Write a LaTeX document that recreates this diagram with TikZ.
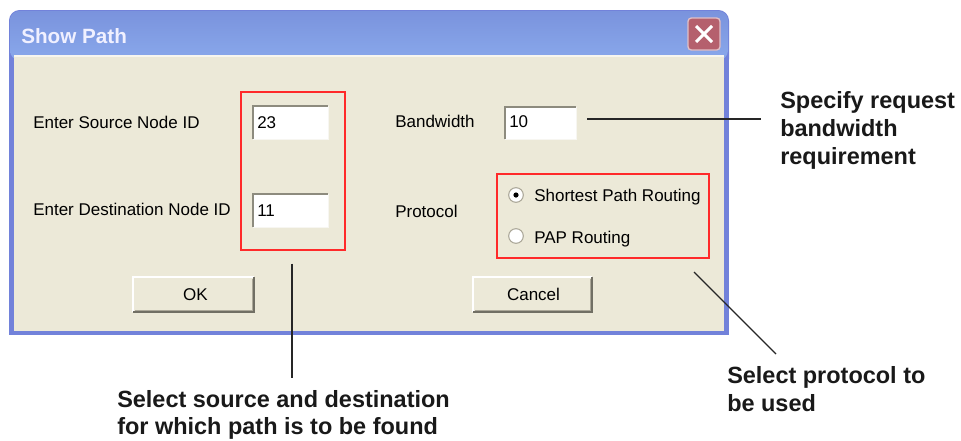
\documentclass[tikz,border=0pt]{standalone}
\usepackage{fontspec}
\setmainfont{Liberation Sans}
\usetikzlibrary{calc,fit}

\definecolor{xpface}{HTML}{ECE9D8}
\definecolor{xpborder}{HTML}{7282DA}
\definecolor{xptitletop}{HTML}{7A93DD}
\definecolor{xptitlebot}{HTML}{89A8EB}
\definecolor{xpclose}{HTML}{B5606D}
\definecolor{xpshadow}{HTML}{8D8B7E}
\definecolor{xpdark}{HTML}{716F64}
\definecolor{xpmid}{HTML}{ACA899}
\definecolor{xplight}{HTML}{F7F6F1}
\definecolor{calloutred}{HTML}{FF2A2A}

% sunken edit-field edges
\newcommand\fieldedges[1]{%
  \draw[xpshadow, line width=1.5pt] (#1.south west) -- (#1.north west) -- (#1.north east);
  \draw[xplight, line width=1pt] (#1.north east) -- (#1.south east) -- (#1.south west);}
% raised push-button edges
\newcommand\buttonedges[1]{%
  \draw[white, line width=1.2pt] (#1.south west) -- (#1.north west) -- (#1.north east);
  \draw[xpdark, line width=1.5pt] (#1.north east) -- (#1.south east) -- (#1.south west);
  \draw[xpmid, line width=0.8pt] ($(#1.north east)+(-2,2)$) -- ($(#1.south east)+(-2,-2)$) -- ($(#1.south west)+(2,-2)$);}

\tikzset{
  dlgtext/.style={font=\fontsize{12.75}{15}\selectfont, inner sep=0, anchor=base west, text=black},
  note/.style={font=\bfseries\fontsize{17.6}{21}\selectfont, inner sep=0, anchor=base west, text=black!90},
  redframe/.style={draw=calloutred, line width=1.1pt, inner sep=0},
  leader/.style={draw=black!85, line width=0.9pt},
  field/.style={fill=white, inner sep=0},
  pushbutton/.style={fill=xpface, inner sep=0},
  btnlabel/.style={font=\fontsize{12.75}{15}\selectfont, inner sep=0, anchor=base, text=black},
  radio/.style={circle, fill=white, draw=xpmid, line width=0.8pt, inner sep=0, minimum size=11pt},
}

\begin{document}
\begin{tikzpicture}[x=0.75pt, y=-0.75pt]
  \fill[white] (0,0) rectangle (961,440);
  \path[use as bounding box] (0,0) rectangle (961,440);

  % window frame
  \fill[xpborder, rounded corners=8] (9,10) rectangle (729,70);
  \fill[xpborder] (9,40) rectangle (729,335);
  \shade[top color=xptitletop, bottom color=xptitlebot, rounded corners=7] (10,11) rectangle (728,60);
  \fill[xpface] (14,56) rectangle (724,331);
  \draw[white!60!xpface, line width=0.8pt] (14,56) -- (724,56);

  % title bar
  \node[font=\bfseries\fontsize{15.5}{18}\selectfont, text=white!94!blue, anchor=base west, inner sep=0] (title) at (21,43) {Show Path};
  \node[fit={(688,18) (720,50)}, inner sep=0, fill=xpclose, draw=white!60!xpclose, rounded corners=2.5pt, line width=1pt] (closebtn) {};
  \draw[white, line width=2.3pt] ($(closebtn.center)+(-8,-8)$) -- ($(closebtn.center)+(8,8)$);
  \draw[white, line width=2.3pt] ($(closebtn.center)+(-8,8)$) -- ($(closebtn.center)+(8,-8)$);

  % labels
  \node[dlgtext] (srclabel) at (33,128) {Enter Source Node ID};
  \node[dlgtext] (dstlabel) at (33,215) {Enter Destination Node ID};
  \node[dlgtext] (bwlabel) at (395,127) {Bandwidth};
  \node[dlgtext] (protolabel) at (395,217) {Protocol};

  % edit fields
  \node[field, fit={(253,106) (328,139)}] (srcfield) {};
  \fieldedges{srcfield}
  \node[dlgtext] (srcval) at (257,128) {23};
  \node[field, fit={(253,194) (328,227)}] (dstfield) {};
  \fieldedges{dstfield}
  \node[dlgtext] (dstval) at (257,216) {11};
  \node[field, fit={(505,107) (576,139)}] (bwfield) {};
  \fieldedges{bwfield}
  \node[dlgtext] (bwval) at (509,127) {10};

  % protocol radio buttons
  \node[radio] (radiosp) at (516,195) {};
  \fill[black] (radiosp.center) circle[radius=2.6];
  \node[dlgtext] (splabel) at (534,201) {Shortest Path Routing};
  \node[radio] (radiopap) at (516,236) {};
  \node[dlgtext] (paplabel) at (534,243) {PAP Routing};

  % push buttons
  \node[pushbutton, fit={(133,277) (254,312)}] (okbtn) {};
  \buttonedges{okbtn}
  \node[btnlabel] (oktext) at ($(okbtn.center)+(2,6)$) {OK};
  \node[pushbutton, fit={(473,277) (592,312)}] (cancelbtn) {};
  \buttonedges{cancelbtn}
  \node[btnlabel] (canceltext) at ($(cancelbtn.center)+(1,6)$) {Cancel};

  % highlight frames
  \node[redframe, fit={(241,92) (345,250)}] (idframe) {};
  \node[redframe, fit={(497,174) (709,258)}] (protoframe) {};

  % callout texts
  \node[note] (bwnote) at (780,108) {\vtop{\baselineskip=21pt\hbox{Specify request}\hbox{bandwidth}\hbox{requirement}}};
  \node[note] (idnote) at (117,407) {\vtop{\baselineskip=20.5pt\hbox{Select source and destination}\hbox{for which path is to be found}}};
  \node[note] (protonote) at (727,383) {\vtop{\baselineskip=21.5pt\hbox{Select protocol to}\hbox{be used}}};

  % leader lines
  \coordinate (bwleadstart) at (587,119);
  \coordinate (bwleadend) at (761,119);
  \coordinate (idleadstart) at ($(idframe.south)+(-1,13)$);
  \coordinate (idleadend) at (292,378);
  \coordinate (protoleadstart) at (694,272);
  \coordinate (protoleadend) at (776,354);
  \draw[leader] (bwleadstart) -- (bwleadend);
  \draw[leader] (idleadstart) -- (idleadend);
  \draw[leader] (protoleadstart) -- (protoleadend);
\end{tikzpicture}
\end{document}
